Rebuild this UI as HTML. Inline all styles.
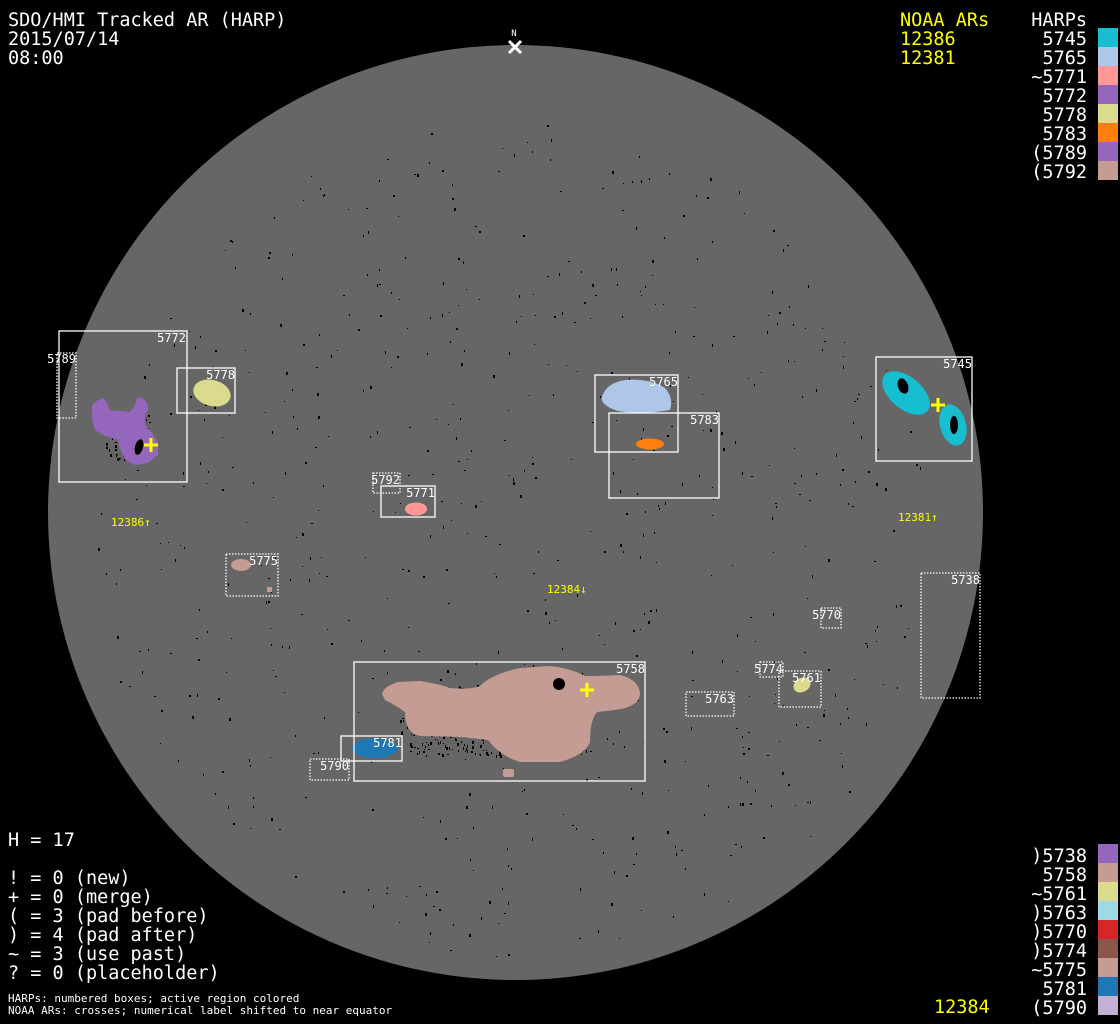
<!DOCTYPE html>
<html><head><meta charset="utf-8"><style>
html,body{margin:0;padding:0;background:#000;}
svg{display:block;}
text{font-family:"DejaVu Sans Mono","Liberation Mono",monospace;}
.big{font-size:18.5px;fill:#fff;}
.y{fill:#ffff00;}
.lab{font-size:12px;fill:#fff;text-anchor:end;}
.nl{font-size:11px;fill:#ffff00;}
.sb{fill:none;stroke:#fff;stroke-width:1.3;}
.db{fill:none;stroke:#fff;stroke-width:1.3;stroke-dasharray:1.5 1.5;}
</style></head><body>
<svg id="s" width="1120" height="1024" viewBox="0 0 1120 1024" xmlns="http://www.w3.org/2000/svg">
<rect width="1120" height="1024" fill="#000"/>
<circle cx="515.5" cy="512.5" r="467.5" fill="#666"/>
<g id="dots"></g>
<path d="M92,405 L98,400 L103,398 L107,403 L110,410 L130,412 L135,405 L137,398 L143,398 L148,405 L148,410 L145,416 L145,425 L152,433 L158,442 L158,455 L148,463 L135,465 L125,460 L120,448 L118,440 L105,436 L95,430 L92,420 Z" fill="#9467bd"/>
<ellipse cx="139" cy="447" rx="4" ry="8" fill="#000" transform="rotate(15 139 447)"/>
<ellipse cx="212" cy="393" rx="19" ry="13" fill="#dbdb8d" transform="rotate(15 212 393)"/>
<path d="M602,397 Q606,383 625,380 Q650,378 665,388 Q674,398 670,410 Q640,415 618,411 Q600,405 602,397 Z" fill="#aec7e8"/>
<ellipse cx="650" cy="444" rx="14" ry="5.5" fill="#ff7f0e"/>
<ellipse cx="906" cy="393" rx="28" ry="16" fill="#17becf" transform="rotate(40 906 393)"/>
<ellipse cx="953" cy="425" rx="13" ry="21" fill="#17becf" transform="rotate(-15 953 425)"/>
<ellipse cx="903" cy="386" rx="5" ry="8" fill="#000" transform="rotate(-20 903 386)"/>
<ellipse cx="954" cy="425" rx="4" ry="9" fill="#000"/>
<ellipse cx="416" cy="509" rx="11" ry="6.5" fill="#ff9896"/>
<ellipse cx="241" cy="565" rx="10" ry="6" fill="#c49c94"/>
<rect x="267" y="587" width="5" height="5" fill="#c49c94"/>
<path d="M382,694 Q384,686 398,682 L420,681 Q440,684 450,688 Q470,690 480,686 Q492,674 520,668 L550,666 Q570,668 585,676 Q600,676 620,675 Q640,680 640,695 Q638,707 615,710 L597,712 Q590,720 590,742 Q585,755 560,762 L520,762 Q500,756 488,740 L460,737 L420,736 Q405,733 405,712 Q395,705 385,700 Z" fill="#c49c94"/>
<circle cx="559" cy="684" r="6" fill="#000"/>
<rect x="503" y="769" width="11" height="8" rx="2" fill="#c49c94"/>
<ellipse cx="375" cy="748" rx="23" ry="10" fill="#1f77b4"/>
<ellipse cx="802" cy="685" rx="9" ry="7" fill="#dbdb8d" transform="rotate(-30 802 685)"/>
<rect class="sb" x="59" y="331" width="128" height="151"/>
<rect class="db" x="57" y="353" width="19" height="65"/>
<rect class="sb" x="177" y="368" width="58" height="45"/>
<rect class="sb" x="595" y="375" width="83" height="77"/>
<rect class="sb" x="609" y="413" width="110" height="85"/>
<rect class="sb" x="876" y="357" width="96" height="104"/>
<rect class="db" x="373" y="473" width="27" height="20"/>
<rect class="sb" x="381" y="486" width="54" height="31"/>
<rect class="db" x="226" y="554" width="52" height="42"/>
<rect class="db" x="921" y="573" width="59" height="125"/>
<rect class="db" x="821" y="608" width="20" height="20"/>
<rect class="sb" x="354" y="662" width="291" height="119"/>
<rect class="db" x="760" y="662" width="23" height="15"/>
<rect class="db" x="779" y="671" width="42" height="36"/>
<rect class="db" x="686" y="692" width="48" height="24"/>
<rect class="sb" x="341" y="736" width="61" height="25"/>
<rect class="db" x="310" y="759" width="39" height="21"/>
<text class="lab" x="186" y="342">5772</text>
<text class="lab" x="76" y="363">5789</text>
<text class="lab" x="235" y="379">5778</text>
<text class="lab" x="678" y="386">5765</text>
<text class="lab" x="719" y="424">5783</text>
<text class="lab" x="972" y="368">5745</text>
<text class="lab" x="400" y="484">5792</text>
<text class="lab" x="435" y="497">5771</text>
<text class="lab" x="278" y="565">5775</text>
<text class="lab" x="980" y="584">5738</text>
<text class="lab" x="841" y="619">5770</text>
<text class="lab" x="645" y="673">5758</text>
<text class="lab" x="783" y="673">5774</text>
<text class="lab" x="821" y="682">5761</text>
<text class="lab" x="734" y="703">5763</text>
<text class="lab" x="402" y="747">5781</text>
<text class="lab" x="349" y="770">5790</text>
<g stroke="#ffff00" stroke-width="3">
<path d="M144,445 H158 M151,438 V452"/>
<path d="M580,690 H594 M587,683 V697"/>
<path d="M931,405 H945 M938,398 V412"/>
</g>
<text class="nl" x="111" y="526">12386↑</text>
<text class="nl" x="898" y="521">12381↑</text>
<text class="nl" x="547" y="593">12384↓</text>
<text x="514" y="36" style="font-size:9px;fill:#fff" text-anchor="middle">N</text>
<path d="M509,41 L521,53 M521,41 L509,53" stroke="#fff" stroke-width="3"/>
<text class="big" x="8" y="26">SDO/HMI Tracked AR (HARP)</text>
<text class="big" x="8" y="45">2015/07/14</text>
<text class="big" x="8" y="64">08:00</text>
<text class="big y" x="900" y="26">NOAA ARs</text>
<text class="big y" x="900" y="45">12386</text>
<text class="big y" x="900" y="64">12381</text>
<g class="big" text-anchor="end">
<text x="1087" y="26">HARPs</text>
<text x="1087" y="45">5745</text>
<text x="1087" y="64">5765</text>
<text x="1087" y="83">~5771</text>
<text x="1087" y="102">5772</text>
<text x="1087" y="121">5778</text>
<text x="1087" y="140">5783</text>
<text x="1087" y="159">(5789</text>
<text x="1087" y="178">(5792</text>
<text x="1087" y="862">)5738</text>
<text x="1087" y="881">5758</text>
<text x="1087" y="900">~5761</text>
<text x="1087" y="919">)5763</text>
<text x="1087" y="938">)5770</text>
<text x="1087" y="957">)5774</text>
<text x="1087" y="976">~5775</text>
<text x="1087" y="995">5781</text>
<text x="1087" y="1014">(5790</text>
</g>
<g>
<rect x="1098" y="28" width="20" height="19" fill="#17becf"/>
<rect x="1098" y="47" width="20" height="19" fill="#aec7e8"/>
<rect x="1098" y="66" width="20" height="19" fill="#ff9896"/>
<rect x="1098" y="85" width="20" height="19" fill="#9467bd"/>
<rect x="1098" y="104" width="20" height="19" fill="#dbdb8d"/>
<rect x="1098" y="123" width="20" height="19" fill="#ff7f0e"/>
<rect x="1098" y="142" width="20" height="19" fill="#9467bd"/>
<rect x="1098" y="161" width="20" height="19" fill="#c49c94"/>
<rect x="1098" y="844" width="20" height="19" fill="#9467bd"/>
<rect x="1098" y="863" width="20" height="19" fill="#c49c94"/>
<rect x="1098" y="882" width="20" height="19" fill="#dbdb8d"/>
<rect x="1098" y="901" width="20" height="19" fill="#9edae5"/>
<rect x="1098" y="920" width="20" height="19" fill="#d62728"/>
<rect x="1098" y="939" width="20" height="19" fill="#8c564b"/>
<rect x="1098" y="958" width="20" height="19" fill="#c49c94"/>
<rect x="1098" y="977" width="20" height="19" fill="#1f77b4"/>
<rect x="1098" y="996" width="20" height="19" fill="#c5b0d5"/>
</g>
<text class="big y" x="934" y="1013">12384</text>
<text class="big" x="8" y="846">H = 17</text>
<text class="big" x="8" y="884">! = 0 (new)</text>
<text class="big" x="8" y="903">+ = 0 (merge)</text>
<text class="big" x="8" y="922">( = 3 (pad before)</text>
<text class="big" x="8" y="941">) = 4 (pad after)</text>
<text class="big" x="8" y="960">~ = 3 (use past)</text>
<text class="big" x="8" y="979">? = 0 (placeholder)</text>
<text x="8" y="1002" style="font-size:11px;fill:#fff">HARPs: numbered boxes; active region colored</text>
<text x="8" y="1014" style="font-size:11px;fill:#fff">NOAA ARs: crosses; numerical label shifted to near equator</text>
</svg>
<script>
(function(){
var g=document.getElementById('dots'),s=12345,h='';
function r(){s=(s*1103515245+12345)%2147483648;return s/2147483648;}
for(var i=0;i<650;i++){
var a=r()*6.2832,d=Math.sqrt(r())*420;
var x=515.5+Math.cos(a)*d,y=512.5+Math.sin(a)*d+30;
var w=1+Math.floor(r()*1.5),hh=1+Math.floor(r()*2.5);
h+='<rect x="'+x.toFixed(0)+'" y="'+y.toFixed(0)+'" width="'+w+'" height="'+hh+'" fill="#000"/>';
}
var spots=[[105,415,45,45],[200,385,25,18],[615,388,50,18],[640,440,20,6],[895,378,20,18],[948,412,12,24],[400,685,190,70],[360,745,30,6],[410,505,12,5]];
spots.forEach(function(b){for(var k=0;k<b[2]*b[3]/30;k++){h+='<rect x="'+(b[0]+r()*b[2]).toFixed(0)+'" y="'+(b[1]+r()*b[3]).toFixed(0)+'" width="'+(1+Math.floor(r()*2))+'" height="'+(1+Math.floor(r()*3))+'" fill="#000"/>';}});
g.innerHTML=h;
})();
</script>
</body></html>
